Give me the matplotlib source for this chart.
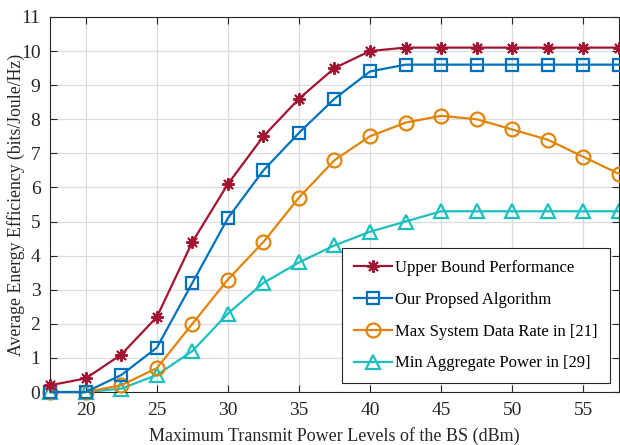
import matplotlib
matplotlib.use("Agg")
import matplotlib.pyplot as plt

# transmit power levels (dBm)
power = [17.5, 20, 22.5, 25, 27.5, 30, 32.5, 35, 37.5, 40, 42.5, 45, 47.5, 50, 52.5, 55, 57.5]
upper = [0.2, 0.4, 1.1, 2.2, 4.4, 6.1, 7.5, 8.6, 9.5, 10.0, 10.1, 10.1, 10.1, 10.1, 10.1, 10.1, 10.1]
proposed = [0.0, 0.0, 0.5, 1.3, 3.2, 5.1, 6.5, 7.6, 8.6, 9.4, 9.6, 9.6, 9.6, 9.6, 9.6, 9.6, 9.6]
max_rate = [0.0, 0.0, 0.2, 0.7, 2.0, 3.3, 4.4, 5.7, 6.8, 7.5, 7.9, 8.1, 8.0, 7.7, 7.4, 6.9, 6.4]
min_power = [0.0, 0.0, 0.1, 0.5, 1.2, 2.3, 3.2, 3.8, 4.3, 4.7, 5.0, 5.3, 5.3, 5.3, 5.3, 5.3, 5.3]

plt.rcParams["font.family"] = ["Liberation Serif", "DejaVu Serif"]
plt.rcParams["mathtext.fontset"] = "stix"

fig = plt.figure(figsize=(6.2, 4.45), dpi=100)
ax = fig.add_axes([0.081, 0.119, 0.917, 0.843])

ax.plot(power, upper, "-", marker=(8, 2, 0), color="#A2142F", lw=1.6, ms=9,
        mew=1.4, label="Upper Bound Performance", clip_on=False, zorder=5)
ax.plot(power, proposed, "-s", color="#0072BD", lw=1.6, ms=8, mfc="none",
        mew=1.6, label="Our Propsed Algorithm", clip_on=False, zorder=4)
ax.plot(power, max_rate, "-o", color="#E0850A", lw=1.6, ms=10, mfc="none",
        mew=1.6, label="Max System Data Rate in [21]", clip_on=False, zorder=3)
ax.plot(power, min_power, "-^", color="#1ABFBF", lw=1.6, ms=10, mfc="none",
        mew=1.6, label="Min Aggregate Power in [29]", clip_on=False, zorder=2)

ax.set_xlim(17.5, 57.5)
ax.set_ylim(0, 11)
ax.set_xticks(range(20, 56, 5))
ax.set_yticks(range(0, 12))
ax.tick_params(direction="in", top=True, right=True, labelsize=14,
               colors="#262626", length=5, pad=7)
for s in ax.spines.values():
    s.set_color("#262626")
    s.set_linewidth(0.8)
ax.grid(True, color="#DCDCDC", lw=0.9)
ax.set_axisbelow(True)

ax.set_xlabel("Maximum Transmit Power Levels of the BS (dBm)", fontsize=13,
              color="#262626", labelpad=6)
ax.set_ylabel("Average Energy Efficiency (bits/Joule/Hz)", fontsize=12.8,
              color="#262626", labelpad=-3)

leg = ax.legend(loc="lower right", bbox_to_anchor=(0.984, 0.024),
                borderaxespad=0, fontsize=12, fancybox=False, framealpha=1,
                edgecolor="#262626", handlelength=2.3, handletextpad=0.2,
                labelspacing=0.95, borderpad=0.7)
leg.get_frame().set_linewidth(0.8)

fig.savefig("out.png", dpi=100)
